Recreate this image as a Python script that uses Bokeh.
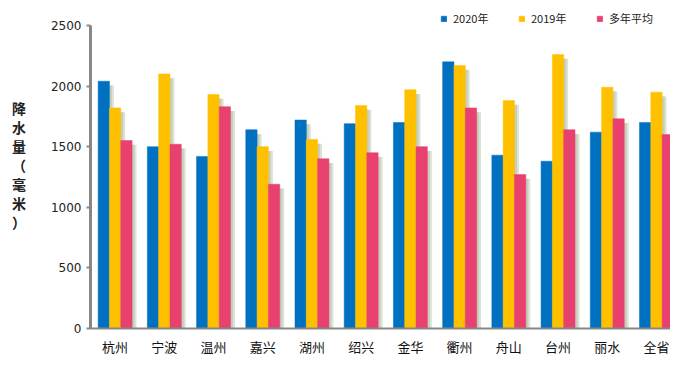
from bokeh.plotting import figure
from bokeh.models import ColumnDataSource, Range1d, FixedTicker, Legend, LegendItem
from bokeh.transform import dodge
from bokeh.embed import file_html
from bokeh.resources import INLINE

cities = ["杭州", "宁波", "温州", "嘉兴", "湖州", "绍兴", "金华", "衢州", "舟山", "台州", "丽水", "全省"]
rain_2020 = [2040, 1500, 1420, 1640, 1720, 1690, 1700, 2200, 1430, 1380, 1620, 1700]
rain_2019 = [1820, 2100, 1930, 1500, 1560, 1840, 1970, 2170, 1880, 2260, 1990, 1950]
rain_avg = [1550, 1520, 1830, 1190, 1400, 1450, 1500, 1820, 1270, 1640, 1730, 1600]
series_names = ["2020年", "2019年", "多年平均"]
y_ticks = [0, 500, 1000, 1500, 2000, 2500]
y_title = "降\n水\n量\n（\n毫\n米\n）"

colors = ["#0070C0", "#FFC000", "#E8416F"]
keys = ["y2020", "y2019", "yavg"]

pos = list(range(len(cities)))
src = ColumnDataSource(dict(
    pos=pos, y2020=rain_2020, y2019=rain_2019, yavg=rain_avg,
    s2020=[v - 35 for v in rain_2020],
    s2019=[v - 35 for v in rain_2019],
    savg=[v - 35 for v in rain_avg],
))

p = figure(x_range=Range1d(-0.5, 11.285),
           y_range=Range1d(0, 2706),
           width=670, height=356,
           frame_width=580, frame_height=328,
           min_border_left=90, min_border_right=0,
           min_border_top=0, min_border_bottom=28,
           output_backend="svg", toolbar_location=None)

bw = 0.23
offsets = [-bw, 0.0, bw]
shadow_keys = ["s2020", "s2019", "savg"]

# soft shadows
for off, sk in zip(offsets, shadow_keys):
    p.vbar(x=dodge("pos", off + 0.09), top=sk, width=bw,
           source=src, fill_color="#DCE2D6", line_color=None)
    p.vbar(x=dodge("pos", off + 0.05), top=sk, width=bw,
           source=src, fill_color="#C6CEBC", line_color=None)

renderers = []
for off, k, c in zip(offsets, keys, colors):
    r = p.vbar(x=dodge("pos", off), top=k, width=bw,
               source=src, fill_color=c, line_color=c, line_width=0.5)
    renderers.append(r)

legend = Legend(items=[LegendItem(label=n, renderers=[r]) for n, r in zip(series_names, renderers)],
                orientation="horizontal", location=(350, 302),
                glyph_width=7, glyph_height=7, label_height=12, label_width=60,
                label_standoff=6, spacing=5, padding=0, margin=0,
                label_text_font="Noto Sans CJK SC", label_text_font_size="11px",
                label_text_color="#222222",
                border_line_color=None, background_fill_alpha=0)
p.add_layout(legend, "center")

p.xgrid.visible = False
p.ygrid.visible = False
p.outline_line_color = None

ya = p.yaxis[0]
ya.ticker = FixedTicker(ticks=y_ticks)
ya.bounds = (0, 2500)
ya.axis_line_color = "#878787"
ya.axis_line_width = 3
ya.major_tick_line_color = "#878787"
ya.major_tick_line_width = 2
ya.major_tick_out = 4
ya.major_tick_in = 0
ya.minor_tick_line_color = None
ya.major_label_text_font = "DejaVu Sans"
ya.major_label_text_font_size = "12px"
ya.major_label_text_color = "#222222"
ya.major_label_standoff = 5
ya.axis_label = y_title
ya.axis_label_orientation = "horizontal"
ya.axis_label_text_font = "Noto Sans CJK SC"
ya.axis_label_text_font_size = "14px"
ya.axis_label_text_font_style = "bold"
ya.axis_label_text_color = "#222222"
ya.axis_label_text_line_height = 0.95
ya.axis_label_standoff = 22

xa = p.xaxis[0]
xa.ticker = FixedTicker(ticks=pos)
xa.major_label_overrides = {i: c for i, c in zip(pos, cities)}
xa.axis_line_color = "#878787"
xa.axis_line_width = 2
xa.major_tick_line_color = None
xa.major_tick_out = 0
xa.major_tick_in = 0
xa.minor_tick_line_color = None
xa.major_label_text_font = "Noto Sans CJK SC"
xa.major_label_text_font_size = "13px"
xa.major_label_text_color = "#111111"
xa.major_label_standoff = 8

open("out.html", "w").write(file_html(p, INLINE))
